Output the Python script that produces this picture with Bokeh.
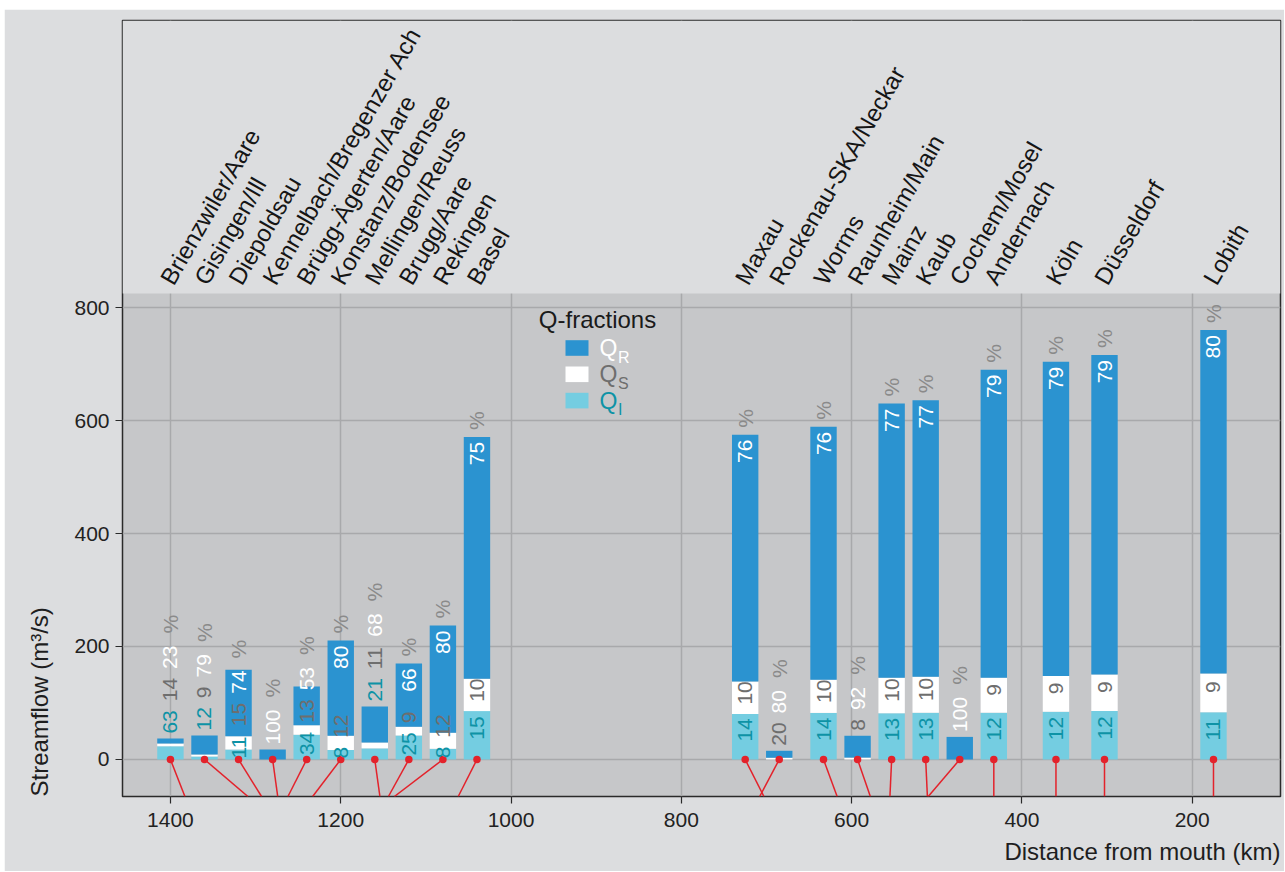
import math
from bokeh.plotting import figure
from bokeh.models import ColumnDataSource, Range1d, FixedTicker, BoxAnnotation, Label, Title
from bokeh.core.properties import value
from bokeh.embed import file_html
from bokeh.resources import INLINE

# ---------------- data ----------------
stations = ["Brienzwiler/Aare", "Gisingen/Ill", "Diepoldsau", "Kennelbach/Bregenzer Ach",
            "Brügg-Ägerten/Aare", "Konstanz/Bodensee", "Mellingen/Reuss", "Brugg/Aare",
            "Rekingen", "Basel", "Maxau", "Rockenau-SKA/Neckar", "Worms", "Raunheim/Main",
            "Mainz", "Kaub", "Cochem/Mosel", "Andernach", "Köln", "Düsseldorf", "Lobith"]
# position of the bar on the distance axis (km)
plot_km = [1400, 1360, 1320, 1280, 1240, 1200, 1160, 1120, 1080, 1040,
           725, 685, 633, 593, 553, 513, 473, 433, 360, 303, 175]
# real distance from mouth of the station (km)
river_km = [1383, 1309, 1293, 1274, 1262, 1233, 1154, 1144, 1137, 1062,
            703, 708, 617, 578, 555, 511, 510, 433, 360, 303, 175]
# mean streamflow (m3/s)
total_q = [37, 42.5, 159, 17.7, 129, 210.5, 93.8, 170, 237, 571,
           575, 15.4, 589, 42, 630, 636, 40, 690, 704, 716, 760]
# Q-fractions (%)
pct_qi = [63, 12, 11, 0, 34, 8, 21, 25, 8, 15, 14, 0, 14, 0, 13, 13, 0, 12, 12, 12, 11]
pct_qs = [14, 9, 15, 0, 13, 12, 11, 9, 12, 10, 10, 20, 10, 8, 10, 10, 0, 9, 9, 9, 9]
pct_qr = [23, 79, 74, 100, 53, 80, 68, 66, 80, 75, 76, 80, 76, 92, 77, 77, 100, 79, 79, 79, 80]

x_ticks = [1400, 1200, 1000, 800, 600, 400, 200]
y_ticks = [0, 200, 400, 600, 800]

# ---------------- style ----------------
FONT = "Liberation Sans"
C_QR, C_QS, C_QI = "#2b93d0", "#ffffff", "#74cde1"
C_TXT_R, C_TXT_S, C_TXT_I, C_PCT = "#ffffff", "#6e6e6e", "#0e93a6", "#8a8a8a"
C_PANEL, C_LIGHT, C_GRID, C_RED = "#c6c7c9", "#dcdddf", "#a8a9ab", "#e3222b"

W, H = 1280, 862
BL, BR, BT, BB = 117, 4, 11, 75
FRAME_W = W - BL - BR
FRAME_H = H - BT - BB
X_START, X_END = 1456.3, 96.3
Y_START, Y_END = -65.5, 1308
PANEL_TOP = 825
BAR_W = 31

n = len(stations)
qi = [total_q[i] * pct_qi[i] / 100 for i in range(n)]
qs_top = [qi[i] + total_q[i] * pct_qs[i] / 100 for i in range(n)]

bars = ColumnDataSource(dict(x=plot_km, qi=qi, qs_top=qs_top, total=total_q,
                             zero=[0] * n, river=river_km, bottom=[Y_START] * n,
                             name=stations))

p = figure(width=W, height=H, output_backend="svg", toolbar_location=None,
           x_range=Range1d(X_START, X_END), y_range=Range1d(Y_START, Y_END),
           min_border_left=BL, min_border_right=BR, min_border_top=BT, min_border_bottom=BB,
           margin=(9, 0, 0, 4))
p.border_fill_color = C_LIGHT
p.background_fill_color = C_PANEL
p.outline_line_color = "#2a2a2a"
p.outline_line_width = 1.5

for g in (p.xgrid, p.ygrid):
    g.grid_line_color = C_GRID
    g.grid_line_width = 1.5
p.xgrid.ticker = FixedTicker(ticks=x_ticks)
p.ygrid.ticker = FixedTicker(ticks=y_ticks)

# light area above the panel (station names)
p.add_layout(BoxAnnotation(bottom=PANEL_TOP, fill_color=C_LIGHT, fill_alpha=1,
                           line_color=None, level="underlay"))

for ax in (p.xaxis, p.yaxis):
    ax.axis_line_color = None
    ax.major_tick_line_color = "#2a2a2a"
    ax.major_tick_line_width = 1.2
    ax.major_tick_out = 7
    ax.major_tick_in = 0
    ax.minor_tick_line_color = None
    ax.major_label_text_font = FONT
    ax.major_label_text_font_size = "21px"
    ax.major_label_text_color = "#222222"
p.xaxis.ticker = FixedTicker(ticks=x_ticks)
p.yaxis.ticker = FixedTicker(ticks=y_ticks)
p.xaxis.major_label_standoff = 9
p.yaxis.major_label_standoff = 6

# stacked bars
p.vbar(x="x", width=BAR_W, bottom="zero", top="qi", source=bars, fill_color=C_QI, line_color=None)
p.vbar(x="x", width=BAR_W, bottom="qi", top="qs_top", source=bars, fill_color=C_QS, line_color=None)
p.vbar(x="x", width=BAR_W, bottom="qs_top", top="total", source=bars, fill_color=C_QR, line_color=None)

# connectors to true position
p.segment(x0="x", y0="zero", x1="river", y1="bottom", source=bars, line_color=C_RED, line_width=1.5)
p.scatter(x="x", y="zero", source=bars, size=7.5, fill_color=C_RED, line_color=None)

# ---------------- percentage labels ----------------
FS = 21
DIG = 0.556 * FS
GAP, PGAP = 9, 12
ppu = FRAME_H / (Y_END - Y_START)

lx, ly, lt, lc = [], [], [], []
for i in range(n):
    t = total_q[i] * ppu
    b1 = qi[i] * ppu
    b2 = qs_top[i] * ppu
    segs = [(pct_qi[i], 0, b1, C_TXT_I), (pct_qs[i], b1, b2, C_TXT_S), (pct_qr[i], b2, t, C_TXT_R)]
    segs = [s for s in segs if s[0] > 0]
    end = -1e9
    if t < 60:
        pos = t + 5
        for pct, lo, hi, col in segs:
            s = str(pct)
            lx.append(plot_km[i]); ly.append(pos / ppu); lt.append(s); lc.append(col)
            end = pos + DIG * len(s)
            pos = end + GAP
    else:
        for k, (pct, lo, hi, col) in enumerate(segs):
            s = str(pct)
            wd = DIG * len(s)
            if k < len(segs) - 1:
                st = max(lo + 0.65 * (hi - lo) - wd / 2, 1, end + GAP)
            else:
                st = max(hi - 5 - wd, end + GAP)
            lx.append(plot_km[i]); ly.append(st / ppu); lt.append(s); lc.append(col)
            end = st + wd
    pst = max(t + 6, end + PGAP)
    lx.append(plot_km[i]); ly.append(pst / ppu); lt.append("%"); lc.append(C_PCT)

labels = ColumnDataSource(dict(x=lx, y=ly, text=lt, color=lc))
p.text(x="x", y="y", text="text", source=labels, angle=math.pi / 2,
       text_align="left", text_baseline="middle", text_color="color",
       text_font=value(FONT), text_font_size="21px")

# station names
p.text(x="x", y=PANEL_TOP, text="name", source=bars, angle=math.radians(60),
       text_align="left", text_baseline="middle", x_offset=-4, y_offset=-11,
       text_color="#151515", text_font=value(FONT), text_font_size="24px")

# ---------------- legend (manual) ----------------
p.add_layout(Label(x=475, y=477, x_units="screen", y_units="screen", text="Q-fractions",
                   text_align="center", text_baseline="middle", text_font=FONT,
                   text_font_size="24px", text_color="#1a1a1a"))
leg = [("R", C_QR, C_TXT_R), ("S", C_QS, C_TXT_S), ("I", C_QI, C_TXT_I)]
for k, (sub, fill, tcol) in enumerate(leg):
    cy = 448.5 - k * 26.3
    p.add_layout(BoxAnnotation(left=443, right=466, bottom=cy - 7.8, top=cy + 7.8,
                               left_units="screen", right_units="screen",
                               top_units="screen", bottom_units="screen",
                               fill_color=fill, fill_alpha=1, line_color=None))
    p.add_layout(Label(x=477, y=cy, x_units="screen", y_units="screen", text="Q",
                       text_baseline="middle", text_font=FONT, text_font_size="23px",
                       text_color=tcol))
    p.add_layout(Label(x=495.5, y=cy - 9, x_units="screen", y_units="screen", text=sub,
                       text_baseline="middle", text_font=FONT, text_font_size="16px",
                       text_color=tcol))

# axis titles
p.add_layout(Title(text="Streamflow (m³/s)", align="left", text_font=FONT,
                   text_font_size="24px", text_font_style="normal", text_color="#1e1e1e",
                   standoff=38), "left")
p.add_layout(Title(text="Distance from mouth (km)", align="right", text_font=FONT,
                   text_font_size="24px", text_font_style="normal", text_color="#1e1e1e",
                   standoff=13), "below")

open("out.html", "w").write(file_html(p, INLINE))
